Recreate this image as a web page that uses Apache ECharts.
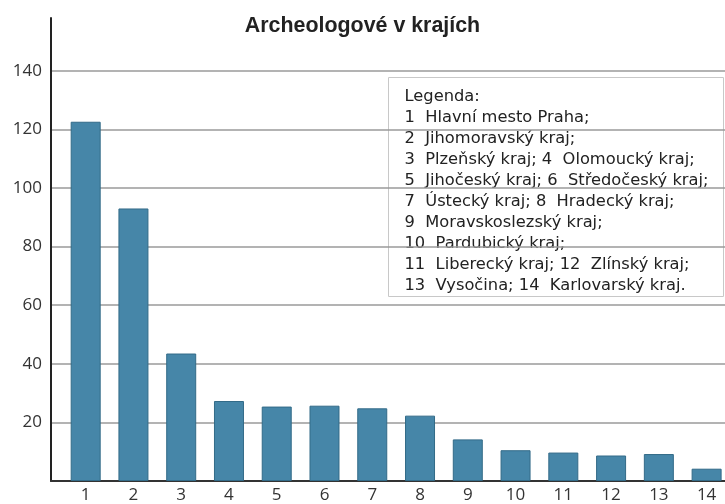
<!DOCTYPE html>
<html lang="cs">
<head>
    <meta charset="UTF-8">
    <title>Archeologové v krajích</title>
    <script src="https://cdn.jsdelivr.net/npm/echarts@6/dist/echarts.min.js"></script>
    <style>
        html, body { margin: 0; padding: 0; background: #fff; }
        #main { width: 725px; height: 504px; }
    </style>
</head>
<body>
<div id="main"></div>
<script>
    // kraje 1..14 a počty archeologů
    var regions = [1, 2, 3, 4, 5, 6, 7, 8, 9, 10, 11, 12, 13, 14];
    var counts = [122.6, 93.0, 43.5, 27.3, 25.4, 25.7, 24.8, 22.3, 14.2, 10.5, 9.7, 8.7, 9.2, 4.2];
    var yTicks = [20, 40, 60, 80, 100, 120, 140];
    var legendLines = [
        'Legenda:',
        '1  Hlavní mesto Praha;',
        '2  Jihomoravský kraj;',
        '3  Plzeňský kraj; 4  Olomoucký kraj;',
        '5  Jihočeský kraj; 6  Středočeský kraj;',
        '7  Ústecký kraj; 8  Hradecký kraj;',
        '9  Moravskoslezský kraj;',
        '10  Pardubický kraj;',
        '11  Liberecký kraj; 12  Zlínský kraj;',
        '13  Vysočina; 14  Karlovarský kraj.'
    ];

    var chart = echarts.init(document.getElementById('main'));

    var option = {
        animation: false,
        title: {
            text: 'Archeologové v krajích',
            left: 'center',
            top: 11,
            textStyle: {
                fontFamily: 'Liberation Sans',
                fontSize: 21.4,
                fontWeight: 'bold',
                color: '#222'
            }
        },
        grid: {
            left: 51,
            right: 0,
            top: 18,
            bottom: 22,
            containLabel: false
        },
        xAxis: {
            type: 'value',
            min: 0.274,
            max: 14.385,
            splitLine: { show: false },
            axisTick: { show: false },
            axisLine: { show: true, lineStyle: { color: '#333', width: 2 } },
            axisLabel: {
                customValues: regions,
                color: '#333',
                fontFamily: 'Open Sans',
                fontSize: 17,
                margin: 6
            }
        },
        yAxis: {
            type: 'value',
            min: 0,
            max: 158,
            interval: 20,
            axisLine: { show: true, lineStyle: { color: '#222', width: 2 } },
            axisTick: { show: false },
            axisLabel: {
                customValues: yTicks,
                color: '#333',
                fontFamily: 'Open Sans',
                fontSize: 17,
                margin: 9
            },
            splitLine: {
                show: true,
                showMinLine: false,
                showMaxLine: false,
                lineStyle: { color: '#9a9a9a', width: 1.5 }
            }
        },
        series: [{
            type: 'bar',
            barWidth: 30,
            data: regions.map(function (r, i) { return [r, counts[i]]; }),
            itemStyle: {
                color: '#4686a8',
                borderColor: '#336b88',
                borderWidth: 1
            }
        }],
        graphic: [{
            type: 'group',
            left: 388,
            top: 77,
            children: [{
                type: 'rect',
                shape: { x: 0, y: 0, width: 335, height: 219 },
                style: {
                    fill: 'rgba(255,255,255,0.92)',
                    stroke: '#c8c8c8',
                    lineWidth: 1
                }
            }, {
                type: 'text',
                x: 16,
                y: 9,
                style: {
                    text: legendLines.join('\n'),
                    font: '16.3px "DejaVu Sans"',
                    lineHeight: 21,
                    fill: '#222'
                }
            }]
        }]
    };

    chart.setOption(option);
</script>
</body>
</html>
